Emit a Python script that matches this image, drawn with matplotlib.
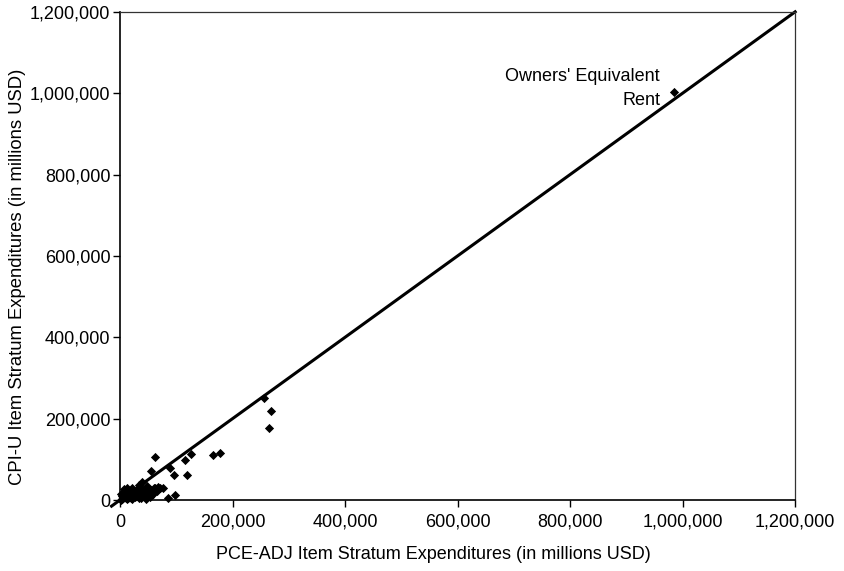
import matplotlib.pyplot as plt
from matplotlib.ticker import FuncFormatter

# item strata expenditures, millions USD
pce_adj = [984000, 256000, 268000, 264000, 178000, 166000, 127000, 116000,
           119000, 96000, 89000, 63000, 56000, 98000, 85000, 77000, 68000,
           39000, 72000, 60000, 52000, 45000, 48000, 42000, 36000, 33000,
           30000, 27000, 25000, 22000, 20000, 18000, 15000, 12000, 10000,
           8000, 6000, 4000, 3000, 2000, 1000, 5000, 9000, 14000, 17000,
           21000, 24000, 28000, 31000, 35000, 38000, 41000, 44000, 47000,
           50000, 53000, 58000, 62000, 66000, 11000, 16000, 26000, 34000,
           46000, 55000, 7000, 13000, 19000, 23000, 29000, 37000, 43000]
cpi_u = [1002000, 250000, 220000, 178000, 116000, 111000, 113000, 98000,
         61000, 62000, 78000, 105000, 71000, 12000, 6000, 29000, 31000,
         45000, 30000, 30000, 28000, 20000, 35000, 10000, 25000, 38000,
         15000, 8000, 20000, 30000, 5000, 12000, 25000, 30000, 4000,
         18000, 8000, 2000, 10000, 1000, 15000, 6000, 22000, 5000, 12000,
         3000, 18000, 10000, 22000, 14000, 5000, 25000, 12000, 20000,
         16000, 8000, 14000, 30000, 22000, 10000, 20000, 12000, 6000,
         2000, 24000, 28000, 3000, 15000, 7000, 18000, 26000, 9000]

ticks = [0, 200000, 400000, 600000, 800000, 1000000, 1200000]

plt.rcParams['font.family'] = ['Liberation Sans', 'DejaVu Sans']

fig = plt.figure(figsize=(8.45, 5.71), dpi=100)
ax = fig.add_axes([0.142, 0.1243, 0.799, 0.855])

ax.plot([-15000, 1200000], [-15000, 1200000], color='black', lw=2.2,
        clip_on=False, zorder=2)
ax.scatter(pce_adj, cpi_u, marker='D', s=22, color='black', zorder=3,
           clip_on=False, linewidths=0)

ax.text(960000, 962000, "Owners' Equivalent\nRent", ha='right', va='bottom',
        fontsize=13, linespacing=1.5)

ax.set_xlim(0, 1200000)
ax.set_ylim(0, 1200000)
ax.set_xticks(ticks)
ax.set_yticks(ticks)
fmt = FuncFormatter(lambda v, p: f'{int(v):,}')
ax.xaxis.set_major_formatter(fmt)
ax.yaxis.set_major_formatter(fmt)
ax.tick_params(direction='out', length=5, width=1, labelsize=13, pad=5)
ax.tick_params(axis='y', pad=2)

for s in ['left', 'bottom']:
    ax.spines[s].set_linewidth(1.2)
for s in ['top', 'right']:
    ax.spines[s].set_linewidth(0.9)
    ax.spines[s].set_color('#333333')

ax.set_xlabel('PCE-ADJ Item Stratum Expenditures (in millions USD)',
              fontsize=13)
ax.xaxis.set_label_coords(0.464, -0.095)
ax.set_ylabel('CPI-U Item Stratum Expenditures (in millions USD)',
              fontsize=13.3)
ax.yaxis.set_label_coords(-0.139, 0.457)

fig.savefig('out.png', dpi=100)
